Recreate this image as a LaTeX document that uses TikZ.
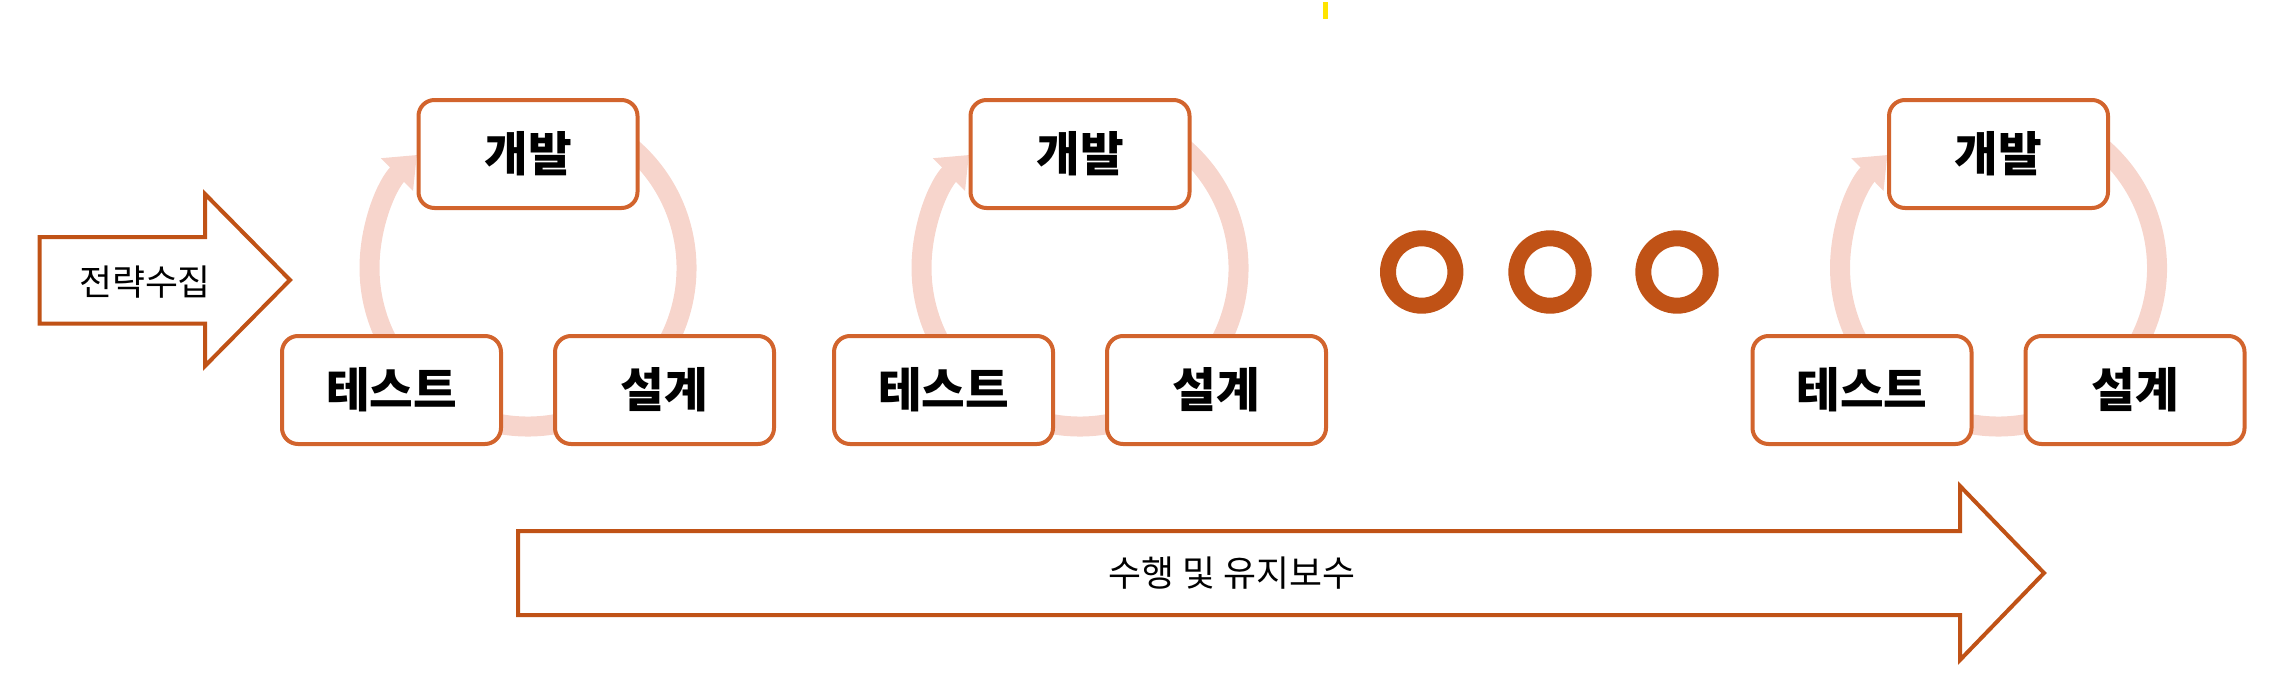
\documentclass[tikz,border=0pt]{standalone}
\usepackage{fontspec}
\setmainfont{Noto Sans CJK KR}
\usepackage{xcolor}
\usepackage{tikz}
\usetikzlibrary{arrows.meta,positioning}
\definecolor{orangeBord}{RGB}{210,100,45}
\definecolor{orangeFonce}{RGB}{192,82,22}
\definecolor{rosePale}{RGB}{247,213,204}
\definecolor{jauneTrait}{RGB}{255,228,0}

\begin{document}
\begin{tikzpicture}[
  etape/.style={rectangle,rounded corners=0.16cm,minimum width=2.19cm,minimum height=1.08cm,
                draw=orangeBord,line width=0.04cm,fill=white,font=\fontsize{13.5}{16}\selectfont\bfseries},
  fleche/.style={draw=orangeFonce,line width=0.04cm,fill=white},
  libelle/.style={font=\fontsize{10.2}{12}\selectfont},
  cercle/.style={circle,draw=orangeFonce,line width=0.16cm,minimum size=0.674cm,inner sep=0pt},
  boucle/.style={rosePale,line width=0.2cm,-{Triangle[width=0.44cm,length=0.28cm]}}]
  \useasboundingbox (0,0) rectangle (22.87,6.72);
  \fill[jauneTrait] (13.23,6.53) rectangle (13.28,6.70);

  \draw[fleche] (0.395,3.485) -- (0.395,4.35) -- (2.05,4.35) -- (2.05,4.78) -- (2.90,3.92)
    -- (2.05,3.06) -- (2.05,3.485) -- cycle;
  \node[libelle] (strat) at (1.45,3.90) {전략수집};

  \coordinate (R1) at (5.28,4.04);
  \coordinate (R2) at (10.80,4.04);
  \coordinate (R3) at (19.985,4.04);
  \draw[boucle] ([shift={(60:1.585)}]R1) arc[start angle=60,end angle=-225.5,radius=1.585];
  \draw[boucle] ([shift={(60:1.585)}]R2) arc[start angle=60,end angle=-225.5,radius=1.585];
  \draw[boucle] ([shift={(60:1.585)}]R3) arc[start angle=60,end angle=-225.5,radius=1.585];

  \node[etape] (D1) at (5.28,5.18) {개발};
  \node[etape] (T1) at (3.915,2.82) {테스트};
  \node[etape] (S1) at (6.645,2.82) {설계};

  \node[etape] (D2) at (10.80,5.18) {개발};
  \node[etape] (T2) at (9.435,2.82) {테스트};
  \node[etape] (S2) at (12.165,2.82) {설계};

  \node[cercle] (O1) at (14.217,4.00) {};
  \node[cercle] (O2) at (15.50,4.00) {};
  \node[cercle] (O3) at (16.77,4.00) {};

  \node[etape] (D3) at (19.985,5.18) {개발};
  \node[etape] (T3) at (18.62,2.82) {테스트};
  \node[etape] (S3) at (21.35,2.82) {설계};

  \draw[fleche] (5.18,0.57) -- (5.18,1.41) -- (19.60,1.41) -- (19.60,1.86) -- (20.44,0.99)
    -- (19.60,0.12) -- (19.60,0.57) -- cycle;
  \node[libelle] (suivi) at (12.32,0.99) {수행 및 유지보수};
\end{tikzpicture}
\end{document}
